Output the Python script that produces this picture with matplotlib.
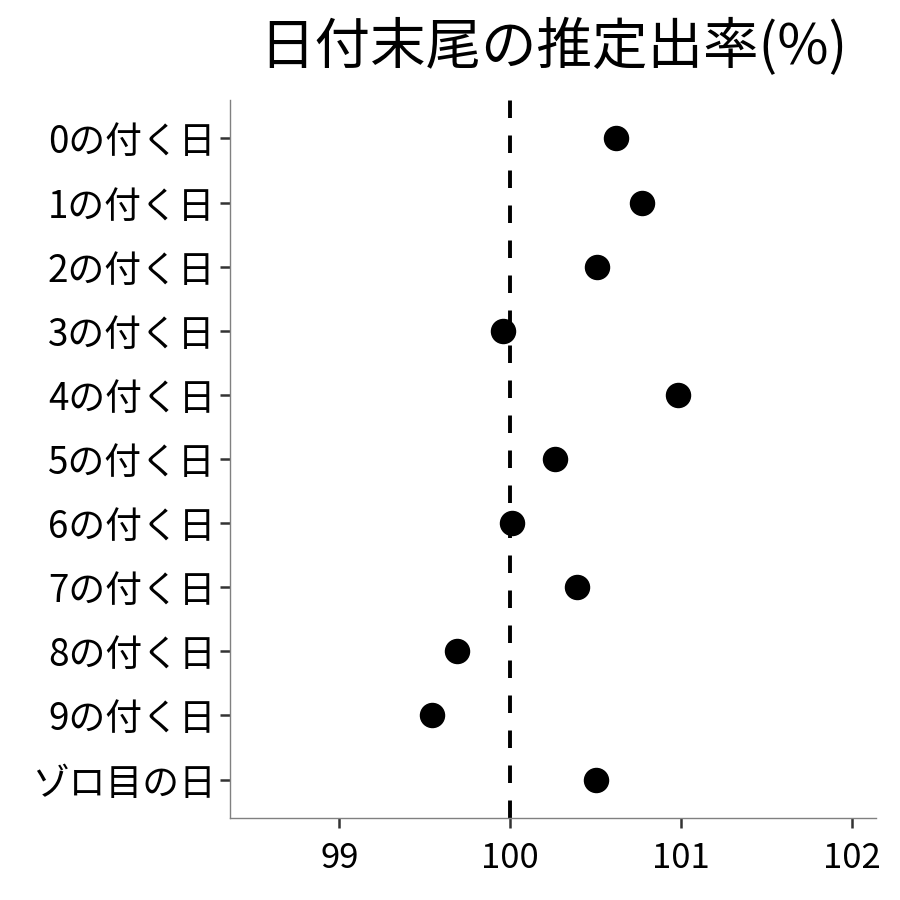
import numpy as np
import matplotlib
matplotlib.use("Agg")
import matplotlib.pyplot as plt

plt.rcParams['font.family'] = ['Noto Sans CJK JP', 'DejaVu Sans']

# 日付末尾ごとの推定出率
labels = ["0の付く日", "1の付く日", "2の付く日", "3の付く日", "4の付く日",
          "5の付く日", "6の付く日", "7の付く日", "8の付く日", "9の付く日", "ゾロ目の日"]
rates = [100.62, 100.77, 100.51, 99.96, 100.98, 100.26, 100.01, 100.39, 99.69, 99.54, 100.50]
xticks = [99, 100, 101, 102]
ref_line = 100

fig = plt.figure(figsize=(9, 9), dpi=100)
ax = fig.add_axes([0.2556, 0.0911, 0.7177, 0.7978])

ypos = np.arange(len(labels))
ax.axvline(ref_line, color='black', lw=2.8, dashes=(4.5, 4.5), zorder=1)
ax.scatter(rates, ypos, s=300, color='black', zorder=3)

ax.set_yticks(ypos)
ax.set_yticklabels(labels)
ax.set_ylim(len(labels) - 1 + 0.6, -0.6)
ax.set_xticks(xticks)
ax.set_xlim(98.36, 102.14)

for s in ['top', 'right']:
    ax.spines[s].set_visible(False)
for s in ['left', 'bottom']:
    ax.spines[s].set_color('#808080')
    ax.spines[s].set_linewidth(1.0)

ax.tick_params(axis='both', length=7.5, width=1.8, color='#333333',
               labelcolor='black')
ax.tick_params(axis='x', labelsize=25, pad=9)
ax.tick_params(axis='y', labelsize=26.5, pad=3)

ax.set_title("日付末尾の推定出率(%)", fontsize=40, pad=26)

fig.savefig("out.png", dpi=100, facecolor='white')
